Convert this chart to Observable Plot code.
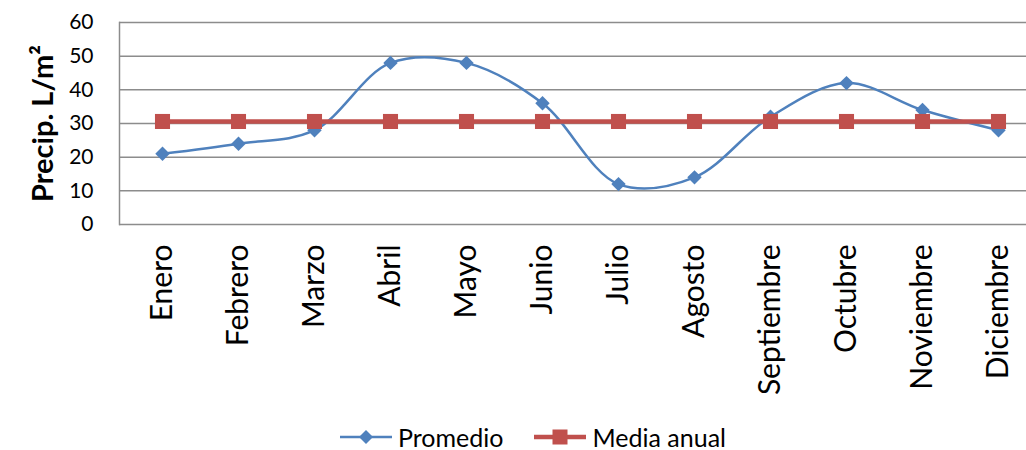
<!DOCTYPE html>
<html><head><meta charset="utf-8">
<script src="https://cdn.jsdelivr.net/npm/d3@7"></script>
<script src="https://cdn.jsdelivr.net/npm/@observablehq/plot@0.6"></script>
<style>
html,body{margin:0;padding:0;background:#fff;overflow:hidden;width:1026px;height:450px;}
body{font-family:Lato, "Open Sans", sans-serif;}
#chart svg{display:block;overflow:hidden;}
g[aria-label="y-axis label"] text{font-weight:bold;font-size:29px;}
#legend{height:44px;display:flex;justify-content:center;align-items:center;gap:31px;margin-left:40px;font-size:25px;color:#000;}
.item{display:flex;align-items:center;gap:6px;}
</style></head><body><div id="chart"></div><div id="legend"></div>
<script>
const months = ["Enero","Febrero","Marzo","Abril","Mayo","Junio","Julio","Agosto","Septiembre","Octubre","Noviembre","Diciembre"];
const promedio = [21,24,28,48,48,36,12,14,32,42,34,28];
const mediaAnual = [30.6,30.6,30.6,30.6,30.6,30.6,30.6,30.6,30.6,30.6,30.6,30.6];
const yTicks = [0,10,20,30,40,50,60];
const seriesNames = ["Promedio","Media anual"];
const colors = ["#4F81BD","#C0504D"];
const symbols = ["diamond2","square"];

const table = months.map((m,i)=>({month:m, promedio:promedio[i], media:mediaAnual[i]}));

const plot = Plot.plot({
  width:1026, height:415,
  marginLeft:119, marginRight:0, marginTop:22, marginBottom:191,
  style:{fontFamily:"Lato, sans-serif", fontSize:"21px", color:"#000", background:"#fff"},
  x:{type:"point", domain:months, range:[157.3,1003.3], padding:0},
  y:{domain:[0,60]},
  marks:[
    Plot.ruleY(yTicks,{stroke:"#8c8c8c", strokeWidth:1.5}),
    Plot.frame({anchor:"left", stroke:"#8c8c8c", strokeWidth:1.5}),
    Plot.axisY(yTicks,{tickSize:0, tickPadding:26, label:"Precip. L/m²", labelAnchor:"center", labelArrow:"none", labelOffset:87, fontSize:21}),
    Plot.axisX({tickSize:0, tickRotate:-90, tickPadding:20, label:null, fontSize:30}),
    Plot.line(table,{x:"month", y:"promedio", curve:"catmull-rom", stroke:colors[0], strokeWidth:2.5}),
    Plot.dot(table,{x:"month", y:"promedio", symbol:symbols[0], r:6.5, fill:colors[0], stroke:null}),
    Plot.line(table,{x:"month", y:"media", stroke:colors[1], strokeWidth:4.5}),
    Plot.dot(table,{x:"month", y:"media", symbol:symbols[1], r:8.5, fill:colors[1], stroke:null})
  ]
});
document.getElementById("chart").appendChild(plot);

const legend = document.getElementById("legend");
seriesNames.forEach((name,i)=>{
  const item = document.createElement("div");
  item.className = "item";
  const sym = i===0
    ? `<path d="M26,3 L33,10 L26,17 L19,10 Z" fill="${colors[0]}"/>`
    : `<rect x="18.5" y="2.5" width="15" height="15" fill="${colors[1]}"/>`;
  const sw = i===0 ? 2.5 : 4.5;
  item.innerHTML = `<svg width="52" height="20"><line x1="0" x2="52" y1="10" y2="10" stroke="${colors[i]}" stroke-width="${sw}"/>${sym}</svg><span>${name}</span>`;
  legend.appendChild(item);
});
</script>
</body></html>
